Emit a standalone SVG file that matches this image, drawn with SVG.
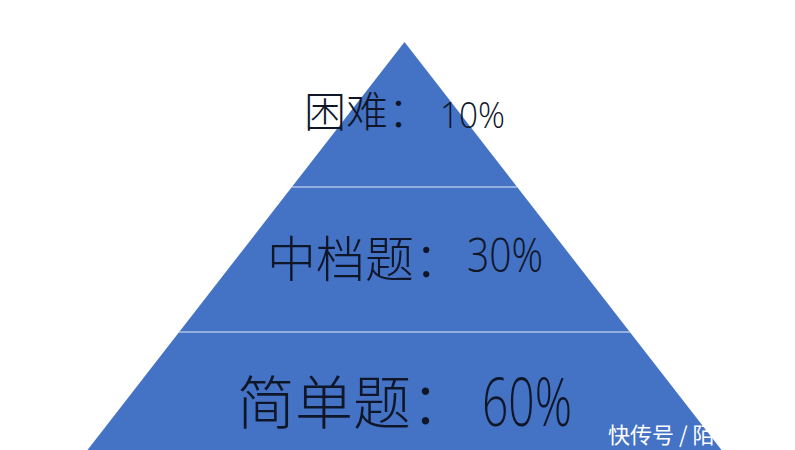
<svg xmlns="http://www.w3.org/2000/svg" width="795" height="450" viewBox="0 0 795 450">
  <style>
    .cjk { font-family: "Noto Sans CJK SC", "Liberation Sans", sans-serif; font-weight: 300; fill: #0f1628; }
    .num { font-family: "Open Sans", "Liberation Sans", sans-serif; font-weight: 300; fill: #0f1628; }
    .sep { stroke: #aec4ea; stroke-width: 1.5; }
    .wm { font-family: "Noto Sans CJK SC", "Liberation Sans", sans-serif; fill: #ffffff; font-size: 22px; }
  </style>
  <rect x="0" y="0" width="795" height="450" fill="#ffffff"/>
  <g id="pyramid">
    <polygon points="404.5,42 87.5,450 721.5,450" fill="#4472c4"/>
  </g>
  <g id="connectors">
    <line class="sep" x1="292" y1="187" x2="517" y2="187"/>
    <line class="sep" x1="179" y1="332" x2="630" y2="332"/>
  </g>
  <g id="level-hard">
    <text class="cjk" x="304" y="127" font-size="42">困难：</text>
    <text class="num" x="440" y="128" font-size="36" textLength="65" lengthAdjust="spacingAndGlyphs">10%</text>
  </g>
  <g id="level-medium">
    <text class="cjk" x="267" y="277" font-size="49">中档题：</text>
    <text class="num" x="467" y="272" font-size="47" textLength="76" lengthAdjust="spacingAndGlyphs">30%</text>
  </g>
  <g id="level-easy">
    <text class="cjk" x="237" y="424" font-size="58">简单题：</text>
    <text class="num" x="482" y="426" font-size="66" textLength="90" lengthAdjust="spacingAndGlyphs">60%</text>
  </g>
  <g id="watermark">
    <text class="wm" x="608" y="443">快传号 / 陌</text>
  </g>
</svg>
